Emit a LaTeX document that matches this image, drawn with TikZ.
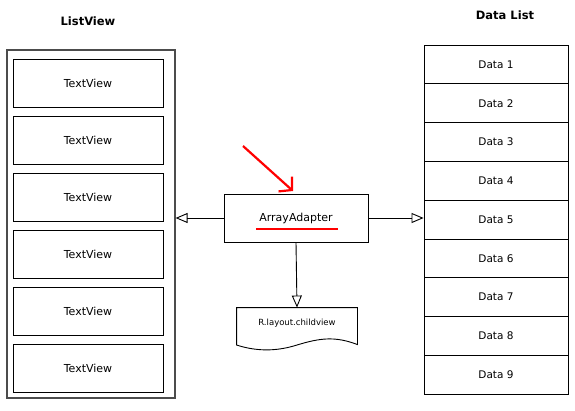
\documentclass[tikz,border=0pt]{standalone}
\usepackage{fontspec}
\setmainfont{DejaVu Sans}
\usetikzlibrary{arrows.meta}

\begin{document}
\begin{tikzpicture}[x=1pt,y=-1pt,line width=0.9pt,
    >={Triangle[open,length=12pt,width=10pt]},
    title/.style={font=\fontsize{11.5}{13}\selectfont\bfseries},
    frame/.style={draw=black!70,line width=1.2pt,inner sep=0pt,minimum width=168pt,minimum height=348pt},
    text box/.style={draw,inner sep=0pt,minimum width=150pt,minimum height=48pt,font=\fontsize{11}{13}\selectfont},
    data cell/.style={draw,inner sep=0pt,minimum width=144pt,minimum height=38.8pt,font=\fontsize{10.5}{13}\selectfont},
    hint/.style={draw=red,line width=2.2pt}]
    \useasboundingbox (0,0) rectangle (575,410);
                        \node[title] (lvtitle) at (88,21) {ListView};
                        \node[frame] (lv) at (91,224) {};
                        \foreach \i in {1,...,6}
                            \node[text box] (tv\i) at (88,{83+57*(\i-1)}) {TextView};
                        \node[title] (dltitle) at (505,15) {Data List};
                        \foreach \i in {1,...,9}
                            \node[data cell] (d\i) at (496,{45+38.8*(\i-0.5)}) {Data \i};
                        \node[text box,minimum width=144pt] (aa) at (296,218) {ArrayAdapter};
                        \node[inner sep=0pt,minimum width=120pt,minimum height=30pt,font=\fontsize{8.5}{10}\selectfont] (doc) at (297,323) {R.layout.childview};
                        \draw (doc.north west) -- (doc.north east) -- ++(0,37)
                            .. controls (335,336) and (320,338) .. (297,345)
                            .. controls (275,352) and (255,351) .. (doc.north west |- 0,345)
                            -- cycle;
                        \path[->]
                        (aa.west) edge (lv.east |- aa.west)
                        (aa.east) edge (d5.west |- aa.east)
                        (aa.south) edge (doc.north)
                        ;
                        \coordinate (cue) at (243,146);
                        \draw[hint,-{Straight Barb[length=9pt,width=20pt]}] (cue) -- (293,191);
                        \draw[hint] ([xshift=-40pt,yshift=-11pt]aa.center) -- ++(82,0);
\end{tikzpicture}
\end{document}
